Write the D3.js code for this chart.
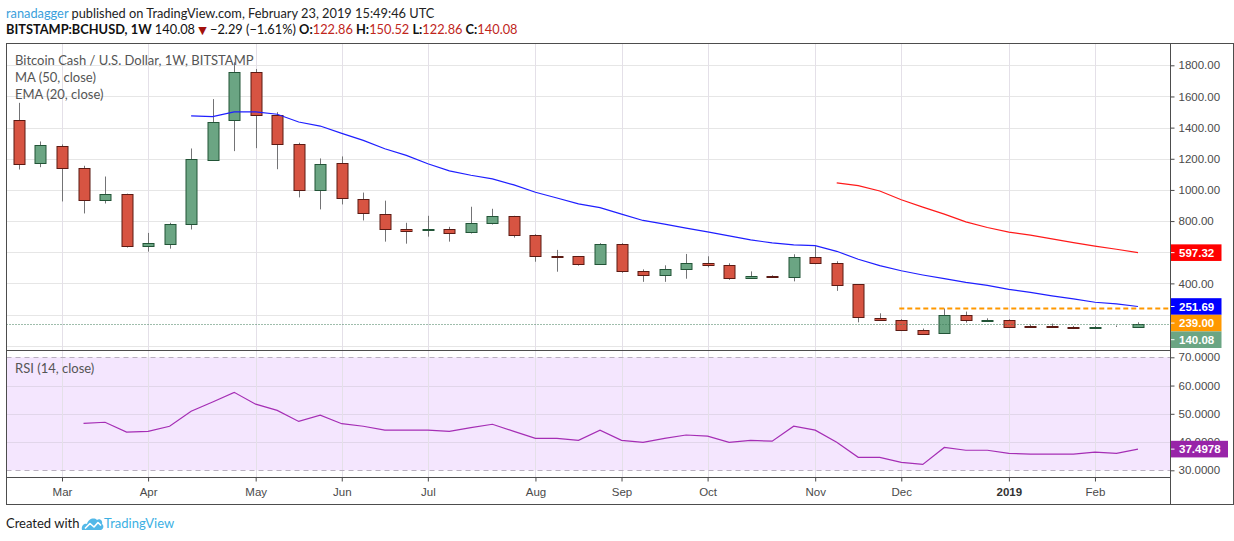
<!DOCTYPE html>
<html>
<head>
<meta charset="utf-8">
<script src="https://cdn.jsdelivr.net/npm/d3@7"></script>
<style>
  html, body { margin: 0; padding: 0; background: #fff; }
  svg { display: block; }
</style>
</head>
<body>
<div id="chart"></div>
<script>
// weekly bars, BITSTAMP:BCHUSD
const weeks = [
  "2018-02-19", "2018-02-26", "2018-03-05", "2018-03-12", "2018-03-19", "2018-03-26",
  "2018-04-02", "2018-04-09", "2018-04-16", "2018-04-23", "2018-04-30", "2018-05-07",
  "2018-05-14", "2018-05-21", "2018-05-28", "2018-06-04", "2018-06-11", "2018-06-18",
  "2018-06-25", "2018-07-02", "2018-07-09", "2018-07-16", "2018-07-23", "2018-07-30",
  "2018-08-06", "2018-08-13", "2018-08-20", "2018-08-27", "2018-09-03", "2018-09-10",
  "2018-09-17", "2018-09-24", "2018-10-01", "2018-10-08", "2018-10-15", "2018-10-22",
  "2018-10-29", "2018-11-05", "2018-11-12", "2018-11-19", "2018-11-26", "2018-12-03",
  "2018-12-10", "2018-12-17", "2018-12-24", "2018-12-31", "2019-01-07", "2019-01-14",
  "2019-01-21", "2019-01-28", "2019-02-04", "2019-02-11", "2019-02-18"
];
const opens = [
  1452, 1174, 1284, 1142, 935, 974, 639, 652, 781, 1194, 1445, 1755, 1484, 1297, 1000,
  1174, 942, 845, 748, 740, 748, 729, 787, 832, 710, 576, 574, 523, 652, 477, 452, 490,
  529, 516, 432, 445, 439, 568, 530, 394, 181, 168, 103, 77, 194, 160, 168, 125, 124,
  122, 114, 125, 122.86
];
const highs = [
  1559, 1311, 1292, 1155, 1086, 976, 724, 789, 1266, 1583, 1819, 1776, 1499, 1303, 1202,
  1215, 983, 931, 789, 834, 763, 892, 879, 834, 716, 615, 576, 658, 658, 490, 516, 589,
  574, 529, 477, 452, 587, 639, 542, 396, 208, 170, 110, 239, 219, 176, 169, 135, 142,
  127, 127, 130, 150.52
];
const lows = [
  1131, 1146, 926, 849, 913, 630, 604, 623, 746, 1194, 1249, 1268, 1133, 952, 875,
  907, 804, 668, 655, 700, 668, 720, 778, 694, 539, 475, 514, 520, 468, 410, 410, 430,
  503, 423, 430, 437, 413, 523, 352, 150, 166, 94, 76, 76, 148, 152, 121, 119, 117,
  107, 111, 120, 122.86
];
const closes = [
  1172, 1290, 1142, 935, 974, 639, 658, 783, 1200, 1439, 1755, 1477, 1297, 1000, 1168,
  948, 852, 748, 736, 746, 722, 787, 832, 710, 574, 572, 523, 652, 477, 452, 490, 529,
  516, 432, 445, 440, 568, 529, 387, 181, 168, 103, 77, 194, 161, 164, 123, 121, 120,
  114, 122, 122, 140.08
];
const ema20 = [
  null, null, null, null, null, null, null, null,
  1475, 1471, 1501, 1501, 1486, 1436, 1410, 1363, 1318, 1264, 1222, 1168, 1122, 1094,
  1071, 1032, 985, 948, 910, 886, 845, 804, 781, 755, 731, 705, 679, 660, 647, 642,
  606, 555, 514, 481, 454, 430, 406, 387, 361, 342, 320, 301, 279, 268, 251.69
];
const ma50 = [
  null, null, null, null, null, null, null, null, null, null, null, null, null, null,
  null, null, null, null, null, null, null, null, null, null, null, null, null, null,
  null, null, null, null, null, null, null, null, null, null,
  1045, 1028, 993, 937, 890, 845, 795, 759, 729, 710, 686, 662, 639, 619, 597.32
];
const rsi14 = [
  null, null, null,
  46.6, 47.0, 43.5, 43.8, 45.6, 50.9, 54.2, 57.6, 53.4, 51.2, 47.3, 49.5, 46.5, 45.6,
  44.2, 44.2, 44.2, 43.8, 45.1, 46.3, 43.8, 41.3, 41.3, 40.6, 44.2, 40.6, 39.9, 41.3,
  42.5, 42.1, 39.9, 40.6, 40.3, 45.6, 44.2, 39.9, 34.6, 34.6, 32.8, 32.1, 38.1, 37.1,
  37.1, 36.0, 35.7, 35.7, 35.7, 36.4, 36.0, 37.4978
];
const monthTicks = [
  "2018-03-05", "2018-04-02", "2018-05-07", "2018-06-04", "2018-07-02", "2018-08-06",
  "2018-09-03", "2018-10-01", "2018-11-05", "2018-12-03", "2019-01-07", "2019-02-04"
];
const monthLabels = ["Mar", "Apr", "May", "Jun", "Jul", "Aug", "Sep", "Oct", "Nov", "Dec", "2019", "Feb"];
const priceTicks = [0, 200, 400, 600, 800, 1000, 1200, 1400, 1600, 1800];
const rsiTicks = [30, 40, 50, 60, 70];
// quote line in the header (change vs. previous tick at publish time)
const quoteChange = -2.29;
const quoteChangePct = -1.61;
// horizontal line drawn from the Dec 3 bar
const levelStart = "2018-12-03";
const levelValue = 239;

const W = 1234, H = 541;
const paneLeft = 6.5, paneTop = 43.5, axisX = 1170.5, paneRight = 1233.5;
const mainBottom = 350.5, rsiBottom = 477.5, paneBottom = 504.5;

const uiFont = "Lato, 'Liberation Sans', sans-serif";
const axisFont = "'Liberation Sans', Arial, sans-serif";

const parse = d3.utcParse("%Y-%m-%d");
const bars = weeks.map((w, i) => ({
  date: parse(w), o: opens[i], h: highs[i], l: lows[i], c: closes[i],
  ema: ema20[i], ma: ma50[i], rsi: rsi14[i]
}));

const x = d3.scaleUtc()
  .domain([parse("2018-03-05"), parse("2019-02-18")])
  .range([62, 1138]);
const yPrice = d3.scaleLinear().domain([0, 1800]).range([345.7, 65.3]);
const yRsi = d3.scaleLinear().domain([30, 70]).range([470.3, 357.3]);

const svg = d3.select("#chart")
  .append("svg")
  .attr("width", W)
  .attr("height", H)
  .attr("viewBox", `0 0 ${W} ${H}`);

const defs = svg.append("defs");
defs.append("clipPath").attr("id", "clipMain")
  .append("rect").attr("x", paneLeft).attr("y", paneTop)
  .attr("width", axisX - paneLeft).attr("height", mainBottom - paneTop);
defs.append("clipPath").attr("id", "clipRsi")
  .append("rect").attr("x", paneLeft).attr("y", mainBottom)
  .attr("width", axisX - paneLeft).attr("height", rsiBottom - mainBottom);

/* ---------- header ---------- */
const head1 = svg.append("text")
  .attr("x", 6).attr("y", 17.5)
  .style("font-family", uiFont).style("font-size", "12.8px").style("fill", "#222");
head1.append("tspan").style("fill", "#3a9fdc").text("ranadagger");
head1.append("tspan").text(" published on TradingView.com, February 23, 2019 15:49:46 UTC");

const last = bars[bars.length - 1];
const fmt2 = d3.format(".2f");
const red = "#c0261c";
const head2 = svg.append("text")
  .attr("x", 6).attr("y", 34)
  .style("font-family", uiFont).style("font-size", "12.8px").style("fill", "#111");
head2.append("tspan").style("font-weight", "bold").text("BITSTAMP:BCHUSD, 1W");
head2.append("tspan").text("  " + fmt2(last.c) + " ");
head2.append("tspan").style("fill", "#a3100b").style("font-family", "'DejaVu Sans'")
  .style("font-size", "11px").text("\u25BC");
head2.append("tspan").text(" \u2212" + fmt2(Math.abs(quoteChange)) + " (\u2212" +
  fmt2(Math.abs(quoteChangePct)) + "%) ");
[["O:", last.o], ["H:", last.h], ["L:", last.l], ["C:", last.c]].forEach(([k, v], i) => {
  head2.append("tspan").style("font-weight", "bold").text((i ? " " : "") + k);
  head2.append("tspan").style("fill", red).text(fmt2(v));
});

/* ---------- grid ---------- */
const grid = svg.append("g");
grid.selectAll(".hgrid")
  .data(priceTicks)
  .enter()
  .append("line")
  .attr("x1", paneLeft).attr("x2", axisX)
  .attr("y1", (d) => Math.round(yPrice(d)) + 0.5)
  .attr("y2", (d) => Math.round(yPrice(d)) + 0.5)
  .attr("stroke", "#e6e6e6");

// rsi background band
svg.append("rect")
  .attr("x", paneLeft).attr("width", axisX - paneLeft)
  .attr("y", yRsi(70)).attr("height", yRsi(30) - yRsi(70))
  .attr("fill", "#f4e6fe");

grid.raise();
grid.selectAll(".rgrid")
  .data([40, 50, 60])
  .enter()
  .append("line")
  .attr("x1", paneLeft).attr("x2", axisX)
  .attr("y1", (d) => Math.round(yRsi(d)) + 0.5)
  .attr("y2", (d) => Math.round(yRsi(d)) + 0.5)
  .attr("stroke", "#e1d6ea");
grid.selectAll(".vgrid")
  .data(monthTicks.map(parse))
  .enter()
  .append("line")
  .attr("x1", (d) => Math.round(x(d)) + 0.5)
  .attr("x2", (d) => Math.round(x(d)) + 0.5)
  .attr("y1", paneTop).attr("y2", rsiBottom)
  .attr("stroke", "#e4e0e8");

svg.selectAll(".rsiBand")
  .data([70, 30])
  .enter()
  .append("line")
  .attr("x1", paneLeft).attr("x2", axisX)
  .attr("y1", (d) => Math.round(yRsi(d)) + 0.5)
  .attr("y2", (d) => Math.round(yRsi(d)) + 0.5)
  .attr("stroke", "#b9b0bf")
  .attr("stroke-dasharray", "5,4");

/* ---------- candles ---------- */
const main = svg.append("g").attr("clip-path", "url(#clipMain)");

const upFill = "#6ba583", upLine = "#225437";
const dnFill = "#d75442", dnLine = "#5b1a13";

const candle = main.selectAll(".candle").data(bars).enter().append("g");
candle.append("line")
  .attr("x1", (d) => Math.round(x(d.date)) + 0.5)
  .attr("x2", (d) => Math.round(x(d.date)) + 0.5)
  .attr("y1", (d) => yPrice(d.h))
  .attr("y2", (d) => yPrice(d.l))
  .attr("stroke", "#737375");
candle.append("rect")
  .attr("x", (d) => Math.round(x(d.date)) - 5)
  .attr("width", 11)
  .attr("y", (d) => Math.round(yPrice(Math.max(d.o, d.c))) + 0.5)
  .attr("height", (d) => Math.max(0, Math.round(yPrice(Math.min(d.o, d.c)) - yPrice(Math.max(d.o, d.c)))))
  .attr("fill", (d) => (d.c >= d.o ? upFill : dnFill))
  .attr("stroke", (d) => (d.c >= d.o ? upLine : dnLine));

// moving averages
const emaLine = d3.line()
  .defined((d) => d.ema != null)
  .x((d) => x(d.date))
  .y((d) => yPrice(d.ema));
const maLine = d3.line()
  .defined((d) => d.ma != null)
  .x((d) => x(d.date))
  .y((d) => yPrice(d.ma));

main.append("path").attr("d", emaLine(bars))
  .attr("fill", "none").attr("stroke", "#1f1fff").attr("stroke-width", 1.2);
main.append("path").attr("d", maLine(bars))
  .attr("fill", "none").attr("stroke", "#ff1a1a").attr("stroke-width", 1.2);

// horizontal level + last price line
main.append("line")
  .attr("x1", x(parse(levelStart)) - 2).attr("x2", axisX)
  .attr("y1", yPrice(levelValue)).attr("y2", yPrice(levelValue))
  .attr("stroke", "#ff9800").attr("stroke-width", 2)
  .attr("stroke-dasharray", "5,3");
main.append("line")
  .attr("x1", paneLeft).attr("x2", axisX)
  .attr("y1", Math.round(yPrice(last.c)) + 0.5).attr("y2", Math.round(yPrice(last.c)) + 0.5)
  .attr("stroke", "#3f7a58").attr("stroke-dasharray", "1,2");

// pane legend
const legend = svg.append("g")
  .style("font-family", uiFont).style("font-size", "13px").style("fill", "#555");
legend.append("text").attr("x", 15).attr("y", 65).text("Bitcoin Cash / U.S. Dollar, 1W, BITSTAMP");
legend.append("text").attr("x", 15).attr("y", 82).text("MA (50, close)");
legend.append("text").attr("x", 15).attr("y", 99).text("EMA (20, close)");

/* ---------- rsi ---------- */
const rsiG = svg.append("g").attr("clip-path", "url(#clipRsi)");
const rsiLine = d3.line()
  .defined((d) => d.rsi != null)
  .x((d) => x(d.date))
  .y((d) => yRsi(d.rsi));
rsiG.append("path").attr("d", rsiLine(bars))
  .attr("fill", "none").attr("stroke", "#a52eb5").attr("stroke-width", 1.2);
legend.append("text").attr("x", 15).attr("y", 373).text("RSI (14, close)");

/* ---------- price tags on the scale ---------- */
const tagH = 16.6;
const tags = [
  { v: last.ma, color: "#ff0000", text: fmt2(last.ma) },
  { v: last.ema, color: "#0000ff", text: fmt2(last.ema) },
  { v: levelValue, color: "#ff9800", text: fmt2(levelValue) },
  { v: last.c, color: "#6ba583", text: fmt2(last.c) }
].map((t) => ({ ...t, y: yPrice(t.v) }))
  .sort((a, b) => a.y - b.y);
// push overlapping tags down
tags.forEach((t, i) => {
  if (i > 0 && t.y < tags[i - 1].y + tagH) t.y = tags[i - 1].y + tagH;
});
const rsiTag = { v: last.rsi, color: "#9824a8", text: d3.format(".4f")(last.rsi), y: yRsi(last.rsi), w: 57 };

/* ---------- axes ---------- */
const styleAxis = (g) => {
  g.select(".domain").remove();
  g.selectAll(".tick line").attr("stroke", "#4a4a4a");
  g.selectAll(".tick text")
    .style("font-family", axisFont).style("font-size", "11.5px").style("fill", "#4a4a4a");
};

// price labels sitting under a tag are hidden by it, so leave them out
const hidden = (v) => tags.some((t) => Math.abs(t.y - yPrice(v)) < tagH * 0.75);
svg.append("g")
  .attr("transform", `translate(${axisX},0)`)
  .call(d3.axisRight(yPrice).tickValues(priceTicks.filter((v) => !hidden(v)))
    .tickSize(4).tickPadding(4).tickFormat(fmt2))
  .call(styleAxis);

svg.append("g")
  .attr("transform", `translate(${axisX},0)`)
  .call(d3.axisRight(yRsi).tickValues(rsiTicks).tickSize(4).tickPadding(4).tickFormat(d3.format(".4f")))
  .call(styleAxis);

svg.append("g")
  .attr("transform", `translate(0,${rsiBottom})`)
  .call(d3.axisBottom(x).tickValues(monthTicks.map(parse)).tickSize(4).tickPadding(6)
    .tickFormat((d, i) => monthLabels[i]))
  .call(styleAxis)
  .call((g) => g.selectAll(".tick text")
    .style("font-weight", (d, i) => (monthLabels[i] === "2019" ? "bold" : "normal"))
    .style("fill", (d, i) => (monthLabels[i] === "2019" ? "#333" : "#4a4a4a")));

const tagG = svg.selectAll(".tag").data(tags.concat([rsiTag])).enter().append("g");
tagG.append("rect")
  .attr("x", axisX + 0.5)
  .attr("y", (d) => d.y - tagH / 2)
  .attr("width", (d) => d.w || 50.5)
  .attr("height", tagH)
  .attr("fill", (d) => d.color);
tagG.append("line")
  .attr("x1", axisX).attr("x2", axisX + 4)
  .attr("y1", (d) => d.y).attr("y2", (d) => d.y)
  .attr("stroke", "#fff");
tagG.append("text")
  .attr("x", axisX + 8.5)
  .attr("y", (d) => d.y)
  .attr("dy", "0.36em")
  .style("font-family", axisFont).style("font-size", "11.5px").style("font-weight", "bold")
  .style("fill", "#fff")
  .text((d) => d.text);

/* ---------- frame ---------- */
const frame = svg.append("g").attr("fill", "none").attr("stroke", "#4d4d4d");
frame.append("rect")
  .attr("x", paneLeft).attr("y", paneTop)
  .attr("width", paneRight - paneLeft).attr("height", paneBottom - paneTop);
frame.append("line").attr("x1", axisX).attr("x2", axisX).attr("y1", paneTop).attr("y2", paneBottom);
frame.append("line").attr("x1", paneLeft).attr("x2", axisX).attr("y1", mainBottom).attr("y2", mainBottom);
frame.append("line").attr("x1", paneLeft).attr("x2", axisX).attr("y1", rsiBottom).attr("y2", rsiBottom);

/* ---------- footer ---------- */
const foot = svg.append("g");
foot.append("text")
  .attr("x", 6).attr("y", 528)
  .style("font-family", uiFont).style("font-size", "13px").style("fill", "#1a1a1a")
  .text("Created with");
const logo = foot.append("g").attr("transform", "translate(82,517)");
logo.append("path")
  .attr("d", "M0,13 C-1,9 2,6 5,7 C6,2 12,0 15,3 C18,1 21,4 20,7 C22,8 22,12 19,13 Z")
  .attr("fill", "#52b8e8");
logo.append("path")
  .attr("d", "M3,11.5 L8,6.5 L12,10 L16,5.5 L19,8.5")
  .attr("fill", "none").attr("stroke", "#fff").attr("stroke-width", 1.6)
  .attr("stroke-linejoin", "round");
foot.append("text")
  .attr("x", 104).attr("y", 528)
  .style("font-family", uiFont).style("font-size", "13px").style("fill", "#3cb0e3")
  .text("TradingView");
</script>
</body>
</html>
